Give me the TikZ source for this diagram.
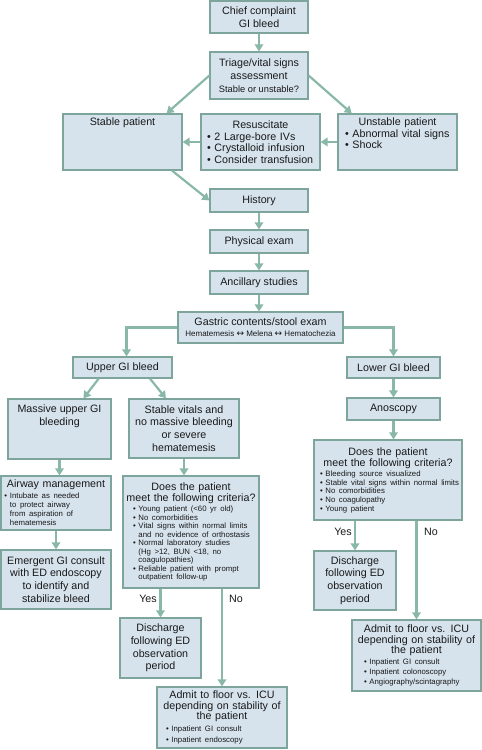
\documentclass[tikz,border=0pt]{standalone}
\usepackage{fontspec}
\setmainfont{Liberation Sans}
\newfontfamily\symf{DejaVu Sans}
\usetikzlibrary{arrows.meta}
\definecolor{boxfill}{RGB}{214,227,237}
\definecolor{bord}{RGB}{125,165,155}
\definecolor{arrc}{RGB}{138,184,168}
\definecolor{txtc}{RGB}{25,25,25}
\newcommand\mainf{\fontsize{10.7}{12.8}\selectfont}
\newcommand\mainb{\fontsize{10.7}{11.5}\selectfont}
\newcommand\mainh{\fontsize{10.7}{11}\selectfont}
\newcommand\smf{\fontsize{7.8}{8.5}\selectfont}
\newcommand\lrarr{{\symf\fontsize{9}{11}\selectfont ↔}}
\newcommand\myhd[1]{{\centering #1\par}}
\newcommand\mybul[2][0pt]{{\let\\\newline\leftskip=#1\rightskip=0pt plus 1fil\hangindent=0.7em\hangafter=1\noindent\makebox[0.7em][l]{•}#2\par}}
\begin{document}
\begin{tikzpicture}[x=1pt,y=-1pt,
  bx/.style={draw=bord, fill=boxfill, line width=1.2pt, inner sep=0pt, rectangle, font=\mainf, text=txtc},
  ctr/.style={bx, align=center},
  lst/.style={bx, align=left},
  tx/.style={inner sep=0pt, font=\mainf, text=txtc, align=center},
  arr/.style={draw=arrc, line width=2.2pt, -{Triangle[length=7pt,width=8.5pt]}},
  lnk/.style={draw=arrc, line width=2.2pt}]
\useasboundingbox (0,0) rectangle (482,750);

% top
\node[ctr, minimum width=98pt, minimum height=32pt] (cc) at (259,17) {Chief complaint\\GI bleed};
\node[ctr, minimum width=98pt, minimum height=47pt] (tri) at (259,75.5) {Triage/vital signs\\assessment\\{\fontsize{9.3}{12.8}\selectfont Stable or unstable?}};
\node[bx, minimum width=119pt, minimum height=56pt] (stab) at (122.5,142) {};
\node[tx, anchor=north] (stabt) at (122.5,118) {Stable patient};
\node[lst, minimum width=119pt, minimum height=56pt, text width=115pt] (res) at (260.5,142)
  {\mainb\myhd{Resuscitate}\mybul[4pt]{2 Large-bore IVs}\mybul[4pt]{Crystalloid infusion}\mybul[4pt]{Consider transfusion}};
\node[bx, minimum width=119pt, minimum height=56pt] (unst) at (397.5,142) {};
\node[tx, anchor=north, text width=115pt, align=left] (unstt) at (397.5,118)
  {\mainb\myhd{Unstable patient}\mybul[5pt]{Abnormal vital signs}\mybul[5pt]{Shock}};

\node[ctr, minimum width=98pt, minimum height=23pt] (hist) at (259,200.5) {History};
\node[ctr, minimum width=98pt, minimum height=23pt] (phys) at (259,241.5) {Physical exam};
\node[ctr, minimum width=98pt, minimum height=23pt] (anc) at (259,282.5) {Ancillary studies};
\node[ctr, minimum width=165pt, minimum height=31pt, font=\fontsize{10.7}{11}\selectfont] (gas) at (260.5,327.5)
  {Gastric contents/stool exam\\{\fontsize{8}{11}\selectfont Hematemesis \lrarr{} Melena \lrarr{} Hematochezia}};

\node[ctr, minimum width=99pt, minimum height=21pt] (ugi) at (122.5,367.5) {Upper GI bleed};
\node[ctr, minimum width=93pt, minimum height=21pt] (lgi) at (393.5,367.5) {Lower GI bleed};

% upper branch
\node[bx, minimum width=103pt, minimum height=60pt] (mas) at (59.5,429) {};
\node[tx, anchor=north] (mast) at (59.5,405) {Massive upper GI\\bleeding};
\node[ctr, minimum width=110pt, minimum height=59pt] (sv) at (184,428.5) {Stable vitals and\\no massive bleeding\\or severe\\hematemesis};
\node[lst, minimum width=110pt, minimum height=54pt, text width=106pt] (air) at (56,503)
  {\mainh\myhd{Airway management}\vskip1pt\fontsize{7.8}{9.3}\selectfont\mybul[1.5pt]{Intubate as needed\\to protect airway\\from aspiration of\\hematemesis}};
\node[ctr, minimum width=110pt, minimum height=59pt] (emg) at (56,579.5) {Emergent GI consult\\with ED endoscopy\\to identify and\\stabilize bleed};
\node[lst, minimum width=136pt, minimum height=112pt, text width=132pt] (dup) at (191,532)
  {\mainh\myhd{Does the patient\\meet the following criteria?}\vskip2pt\smf
   \mybul[8pt]{Young patient (<60 yr old)}\mybul[8pt]{No comorbidities}%
   \mybul[8pt]{Vital signs within normal limits\\and no evidence of orthostasis}%
   \mybul[8pt]{Normal laboratory studies\\(Hg >12, BUN <18, no\\coagulopathies)}%
   \mybul[8pt]{Reliable patient with prompt\\outpatient follow-up}};
\node[ctr, minimum width=81pt, minimum height=60pt] (disu) at (160.5,648) {Discharge\\following ED\\observation\\period};
\node[lst, minimum width=130pt, minimum height=61pt, text width=126pt] (admu) at (222,717.5)
  {\fontsize{10.7}{10.3}\selectfont\myhd{Admit to floor vs. ICU\\depending on stability of\\the patient}\vskip1pt\fontsize{7.8}{11}\selectfont
   \mybul[7pt]{Inpatient GI consult}\mybul[7pt]{Inpatient endoscopy}};

% lower branch
\node[ctr, minimum width=93pt, minimum height=22pt] (ano) at (393.5,409) {Anoscopy};
\node[lst, minimum width=148pt, minimum height=80pt, text width=146pt] (dlo) at (388,480)
  {\mainh\myhd{Does the patient\\meet the following criteria?}\vskip2pt\fontsize{7.8}{8.6}\selectfont
   \mybul[5pt]{Bleeding source visualized}\mybul[5pt]{Stable vital signs within normal limits}%
   \mybul[5pt]{No comorbidities}\mybul[5pt]{No coagulopathy}\mybul[5pt]{Young patient}};
\node[ctr, minimum width=82pt, minimum height=59pt] (disl) at (355,580.5) {Discharge\\following ED\\observation\\period};
\node[lst, minimum width=129pt, minimum height=71pt, text width=125pt] (adml) at (416.5,655.5)
  {\fontsize{10.7}{10.5}\selectfont\myhd{Admit to floor vs. ICU\\depending on stability of\\the patient}\vskip1pt\fontsize{7.8}{10}\selectfont
   \mybul[10pt]{Inpatient GI consult}\mybul[10pt]{Inpatient colonoscopy}\mybul[10pt]{Angiography/scintagraphy}};

% labels
\node[tx] (yes1) at (148,599) {Yes};
\node[tx] (no1) at (236,599) {No};
\node[tx] (yes2) at (343,532) {Yes};
\node[tx] (no2) at (431,532) {No};

% connectors
\draw[arr] (cc) -- (tri);
\draw[arr] (tri.west) -- (stab.33);
\draw[arr] (tri.east) -- (unst.148);
\draw[arr] (res.west) -- (stab.east);
\draw[arr] (unst.west) -- (res.east);
\draw[arr] (stab.-30) -- (hist.west);
\draw[arr] (hist) -- (phys);
\draw[arr] (phys) -- (anc);
\draw[arr] (anc.south) -- (anc.south |- gas.north);
\draw[arr] (gas.west) -| ([xshift=4pt]ugi.north);
\draw[arr] (gas.east) -| (lgi.north);
\draw[arr] (ugi.205) -- (mas.52);
\draw[arr] (ugi.-22) -- (sv.121);
\draw[arr] (mas.south) -- (mas.south |- air.north);
\draw[arr] (air.south) -- (emg.north);
\draw[arr] (sv.south) -- (sv.south |- dup.north);
\draw[arr] (disu.north |- dup.south) -- (disu.north);
\draw[arr] (admu.north |- dup.south) -- (admu.north);
\draw[arr] (lgi) -- (ano);
\draw[arr] (ano.south) -- (ano.south |- dlo.north);
\draw[arr] (disl.north |- dlo.south) -- (disl.north);
\draw[arr] (adml.north |- dlo.south) -- (adml.north);
\end{tikzpicture}
\end{document}
